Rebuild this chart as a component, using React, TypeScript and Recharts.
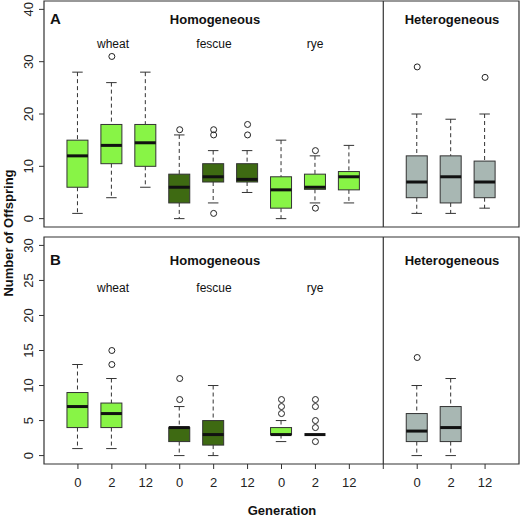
import React from 'react';
import { ComposedChart, Bar, Scatter, XAxis, YAxis, ReferenceArea, ReferenceLine } from 'recharts';

const FONT = '"Liberation Sans", Arial, sans-serif';
const LIGHT = '#88F446';
const DARK = '#3E6A12';
const GRAY = '#A8B7B3';
const INK = '#333';

// x slots: homogeneous 1..9, divider at 10, heterogeneous 11..13
const positions = [1, 2, 3, 4, 5, 6, 7, 8, 9, 11, 12, 13];
const generations = ['0', '2', '12', '0', '2', '12', '0', '2', '12', '0', '2', '12'];
const hosts = ['wheat', 'wheat', 'wheat', 'fescue', 'fescue', 'fescue', 'rye', 'rye', 'rye', 'mixed', 'mixed', 'mixed'];
const hostColors: Record<string, string> = { wheat: LIGHT, fescue: DARK, rye: LIGHT, mixed: GRAY };

// panel A
const aLow = [1, 4, 6, 0, 3, 5, 0, 3, 3, 1, 1, 2];
const aQ1 = [6, 10.5, 10, 3, 7, 7, 2, 5.6, 5.5, 4, 3, 4];
const aMed = [12, 14, 14.5, 6, 8, 7.5, 5.5, 6, 8, 7, 8, 7];
const aQ3 = [15, 18, 18, 8.5, 10.5, 10.5, 8, 8.5, 9, 12, 12, 11];
const aHigh = [28, 26, 28, 16, 13, 13, 15, 12, 14, 20, 19, 20];
const aOut = [[], [31], [], [17], [17, 16, 1], [18, 16], [], [13, 2], [], [29], [], [27]];

// panel B (no data for generation 12)
const bLow = [1, 1, null, 0, 0, null, 2, 3, null, 0, 0, null];
const bQ1 = [4, 4, null, 2, 1.5, null, 3, 3, null, 2, 2, null];
const bMed = [7, 6, null, 4, 3, null, 3, 3, null, 3.5, 4, null];
const bQ3 = [9, 7.5, null, 4, 5, null, 4, 3, null, 6, 7, null];
const bHigh = [13, 11, null, 7, 10, null, 5, 3, null, 10, 11, null];
const bOut = [[], [15, 13], [], [11, 8], [], [], [8, 7, 6], [8, 7, 5, 4, 2], [], [14], [], []];

const aTicks = [0, 10, 20, 30, 40];
const bTicks = [0, 5, 10, 15, 20, 25, 30];
const xTicks = [1, 2, 3, 4, 5, 6, 7, 8, 9, 10, 11, 12, 13];

const buildRows = (lo: any[], q1: any[], med: any[], q3: any[], hi: any[]) =>
  positions
    .map((pos, i) => ({ pos, lo: lo[i], q1: q1[i], med: med[i], q3: q3[i], hi: hi[i], host: hosts[i] }))
    .filter((r) => r.hi != null);

const buildOutliers = (out: number[][]) =>
  positions.flatMap((pos, i) => out[i].map((v) => ({ pos, v })));

const xLabel = (v: number) => {
  const i = positions.indexOf(v);
  return i < 0 ? '' : generations[i];
};

const BoxShape = (props: any) => {
  const { x, y, width, height } = props;
  const d = props.payload ?? props;
  if (!d || !d.hi || !height) return null;
  const base = y + height;
  const k = height / d.hi;
  const py = (v: number) => base - v * k;
  const cx = x + width / 2;
  const cap = width / 4;
  return (
    <g>
      <line x1={cx} x2={cx} y1={py(d.hi)} y2={py(d.q3)} stroke={INK} strokeDasharray="4 3" />
      <line x1={cx} x2={cx} y1={py(d.q1)} y2={py(d.lo)} stroke={INK} strokeDasharray="4 3" />
      <line x1={cx - cap} x2={cx + cap} y1={py(d.hi)} y2={py(d.hi)} stroke={INK} />
      <line x1={cx - cap} x2={cx + cap} y1={py(d.lo)} y2={py(d.lo)} stroke={INK} />
      <rect x={x} y={py(d.q3)} width={width} height={py(d.q1) - py(d.q3)} fill={hostColors[d.host]} stroke={INK} />
      <line x1={x} x2={x + width} y1={py(d.med)} y2={py(d.med)} stroke="#111" strokeWidth={3} />
    </g>
  );
};

const Outlier = (p: any) => <circle cx={p.cx} cy={p.cy} r={3} fill="none" stroke="#222" strokeWidth={1} />;

const RotTick = (props: any) => {
  const { x, y, payload } = props;
  return (
    <text x={x} y={y} transform={`rotate(-90, ${x}, ${y})`} textAnchor="middle" fontSize={13} fill="#222" fontFamily={FONT}>
      {payload.value}
    </text>
  );
};

interface PanelProps {
  rows: any[];
  outliers: { pos: number; v: number }[];
  domain: [number, number];
  ticks: number[];
  height: number;
  showX: boolean;
}

const Panel: React.FC<PanelProps> = ({ rows, outliers, domain, ticks, height, showX }) => (
  <ComposedChart width={522} height={height} data={rows} margin={{ top: 1, right: 3, left: 0, bottom: showX ? 0 : 5 }}>
    <XAxis
      dataKey="pos"
      type="number"
      domain={[0, 14]}
      ticks={xTicks}
      interval={0}
      allowDataOverflow
      hide={!showX}
      height={56}
      axisLine={false}
      tickLine={{ stroke: INK }}
      tickSize={5}
      tickMargin={9}
      tickFormatter={xLabel}
      tick={{ fontSize: 13, fill: '#222', fontFamily: FONT }}
    />
    <YAxis
      type="number"
      domain={domain}
      ticks={ticks}
      interval={0}
      allowDataOverflow
      width={44}
      axisLine={false}
      tickLine={{ stroke: INK }}
      tickSize={5}
      tickMargin={6}
      tick={<RotTick />}
    />
    <ReferenceArea x1={0} x2={14} y1={domain[0]} y2={domain[1]} fill="none" stroke={INK} strokeWidth={1.2} ifOverflow="visible" />
    <ReferenceLine x={10} stroke={INK} strokeWidth={1.2} />
    <Bar dataKey="hi" barSize={21} shape={BoxShape} isAnimationActive={false} />
    <Scatter data={outliers} dataKey="v" shape={Outlier} isAnimationActive={false} />
  </ComposedChart>
);

const textStyle = { fontFamily: FONT, fill: '#111' };

const App: React.FC = () => {
  const rowsA = buildRows(aLow, aQ1, aMed, aQ3, aHigh);
  const rowsB = buildRows(bLow, bQ1, bMed, bQ3, bHigh);
  return (
    <div style={{ position: 'absolute', left: 0, top: 0, width: 522, height: 520, background: '#fff' }}>
      <div style={{ position: 'absolute', left: 0, top: 0 }}>
        <Panel rows={rowsA} outliers={buildOutliers(aOut)} domain={[-1.6, 41.6]} ticks={aTicks} height={232} showX={false} />
      </div>
      <div style={{ position: 'absolute', left: 0, top: 236 }}>
        <Panel rows={rowsB} outliers={buildOutliers(bOut)} domain={[-1.2, 31.2]} ticks={bTicks} height={284} showX />
      </div>
      <svg width={522} height={520} style={{ position: 'absolute', left: 0, top: 0, pointerEvents: 'none' }}>
        <g style={textStyle}>
          <text x={50} y={24} fontSize={15} fontWeight="bold">A</text>
          <text x={215} y={24} fontSize={13} fontWeight="bold" textAnchor="middle">Homogeneous</text>
          <text x={452} y={24} fontSize={13} fontWeight="bold" textAnchor="middle">Heterogeneous</text>
          <text x={113} y={47.5} fontSize={12} textAnchor="middle">wheat</text>
          <text x={214} y={47.5} fontSize={12} textAnchor="middle">fescue</text>
          <text x={315} y={47.5} fontSize={12} textAnchor="middle">rye</text>

          <text x={50} y={265} fontSize={15} fontWeight="bold">B</text>
          <text x={215} y={265} fontSize={13} fontWeight="bold" textAnchor="middle">Homogeneous</text>
          <text x={452} y={265} fontSize={13} fontWeight="bold" textAnchor="middle">Heterogeneous</text>
          <text x={113} y={292} fontSize={12} textAnchor="middle">wheat</text>
          <text x={214} y={292} fontSize={12} textAnchor="middle">fescue</text>
          <text x={315} y={292} fontSize={12} textAnchor="middle">rye</text>

          <text x={282} y={515} fontSize={13} fontWeight="bold" textAnchor="middle">Generation</text>
          <text x={13} y={233} fontSize={13} fontWeight="bold" textAnchor="middle" transform="rotate(-90, 13, 233)">
            Number of Offspring
          </text>
        </g>
      </svg>
    </div>
  );
};

export default App;
